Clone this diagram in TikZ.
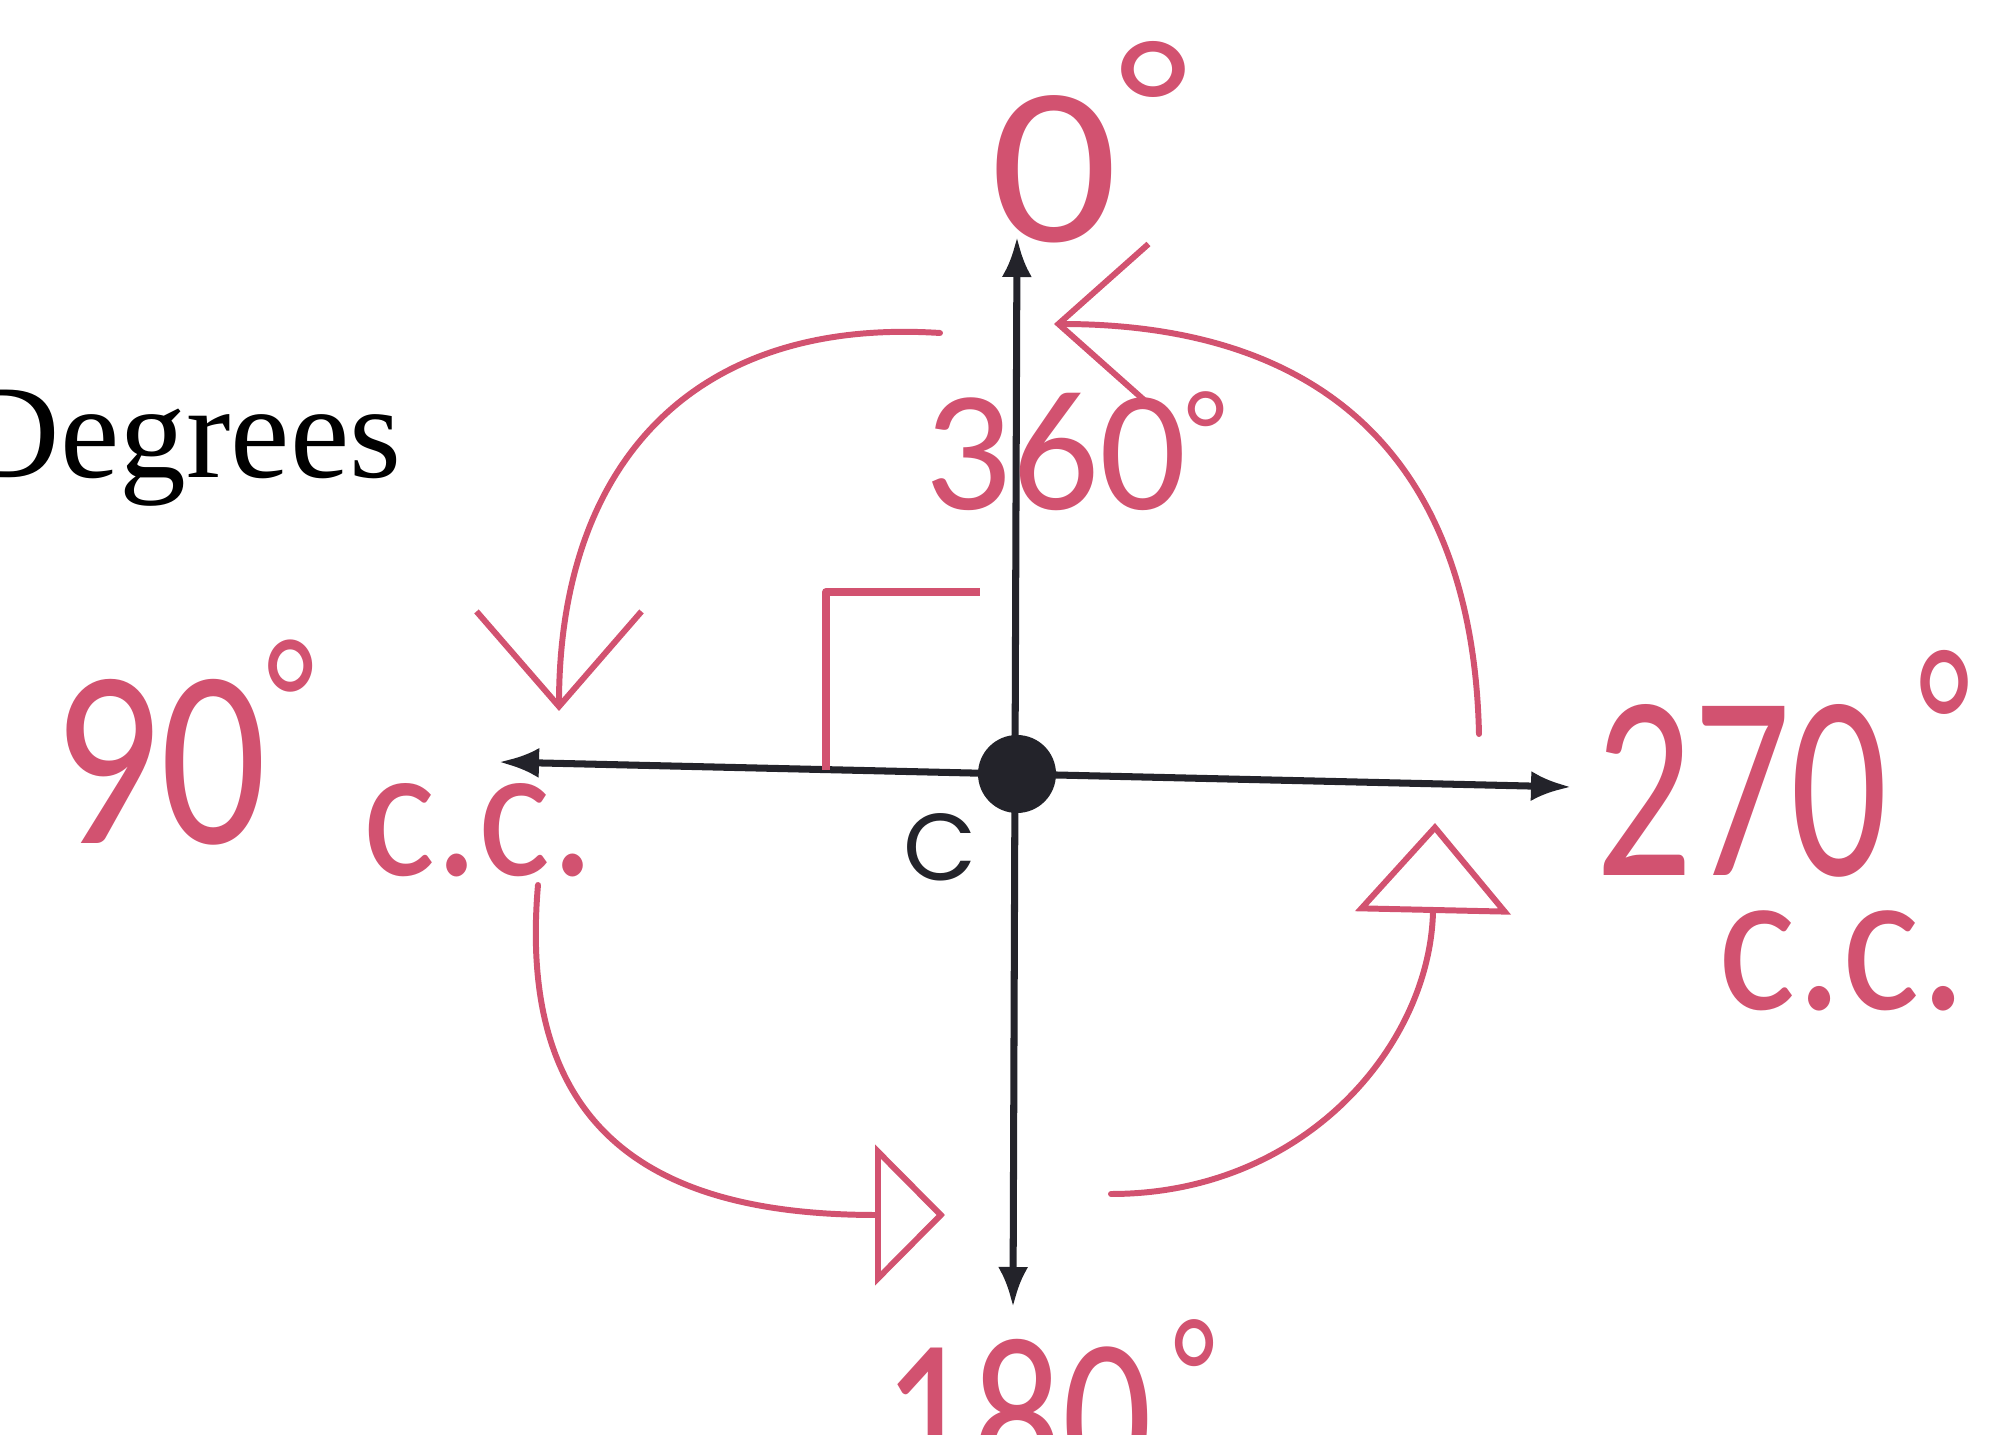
\documentclass[tikz,border=0pt]{standalone}
\usepackage{fontspec}
\setmainfont{Liberation Sans}
\newfontfamily\serifa{Liberation Serif}
\newfontfamily\tonda{Poppins}
\newfontfamily\penna{Carlito}
\usepackage{tikz}
\usetikzlibrary{arrows.meta}

\definecolor{rosa}{RGB}{210,82,112}
\definecolor{inchiostro}{RGB}{35,35,42}
% segno di grado: spostamento, sollevamento, scala
\newcommand{\gradi}[3]{\kern#1\raisebox{#2}{\scalebox{#3}{°}}}

\begin{document}
\begin{tikzpicture}[
		asse/.style={draw=inchiostro, line width=2pt, {Latex[length=4mm,width=3mm]}-{Latex[length=4mm,width=3mm]}},
		tratto/.style={draw=rosa, line width=1.7pt, line cap=round, line join=round},
		mano/.style={text=rosa, inner sep=0pt, anchor=base west}
	]
				\useasboundingbox (0, 0) rectangle (19.91, 14.34);
				\clip (0, 0) rectangle (19.91, 14.34);
				
				% Titolo
				\node[font=\serifa\fontsize{38}{38}\selectfont, anchor=base east, inner sep=0pt] (titolo) at (4.02, 9.56) {Degrees};
				
				% Assi
				\coordinate (sx) at (4.99, 6.72);
				\coordinate (dx) at (15.71, 6.47);
				\coordinate (su) at (10.17, 11.97);
				\coordinate (giu) at (10.13, 1.27);
				\draw[asse] (sx) -- (dx);
				\draw[asse] (giu) -- (su);
				\node[circle, fill=inchiostro, minimum size=0.78cm, inner sep=0pt] (O) at (10.17, 6.60) {};
				\node[font=\tonda\fontsize{27}{27}\selectfont, text=inchiostro] (lblC) at (9.40, 5.87) {C};
				
				% Angolo retto
				\draw[tratto, line width=2.2pt, line cap=butt] (8.26, 6.64) -- (8.26, 8.42) -- (9.80, 8.42);
				
				% Etichette in gradi
				\node[mano, font=\penna\fontsize{64}{64}\selectfont, xscale=1.12] (zero) at (9.90, 11.92) {0\gradi{0em}{.33em}{.82}};
				\node[mano, font=\penna\fontsize{49}{49}\selectfont] (tresessanta) at (9.24, 9.24) {360\gradi{0em}{.23em}{.67}};
				\node[mano, font=\penna\fontsize{72}{72}\selectfont, xscale=0.83] (novanta) at (0.53, 5.90) {90\gradi{0em}{.34em}{.68}};
				\node[mano, font=\penna\fontsize{54}{54}\selectfont, xscale=0.9] (ccsx) at (3.63, 5.58) {c.c.};
				\node[mano, font=\penna\fontsize{75}{75}\selectfont, xscale=0.73] (duesettanta) at (15.95, 5.58) {270\gradi{.16em}{.31em}{.8}};
				\node[mano, font=\penna\fontsize{58}{58}\selectfont, xscale=0.9] (ccdx) at (17.18, 4.24) {c.c.};
				\node[mano, font=\penna\fontsize{63}{63}\selectfont, xscale=0.8] (centottanta) at (8.82, -0.56) {180\gradi{.12em}{.29em}{.7}};
				
				% Frecce di rotazione
				\coordinate (a1) at (9.40, 11.01);
				\coordinate (b1) at (5.59, 7.23);
				\draw[tratto, -{Straight Barb[length=9.5mm,width=16.5mm]}] (a1) .. controls (6.92, 11.17) and (5.59, 9.69) .. (b1);
				
				\coordinate (a2) at (14.79, 7.00);
				\coordinate (b2) at (10.54, 11.10);
				\draw[tratto, -{Straight Barb[length=9mm,width=16mm]}] (a2) .. controls (14.73, 9.67) and (13.31, 11.10) .. (b2);
				
				\coordinate (a3) at (5.38, 5.49);
				\coordinate (b3) at (9.45, 2.19);
				\draw[tratto, -{Triangle[open,length=7mm,width=14mm]}] (a3) to[out=265, in=180, looseness=1.3] (b3);
				
				\coordinate (a4) at (11.11, 2.40);
				\coordinate (b4) at (14.35, 6.11);
				\draw[tratto, -{Triangle[open,length=9mm,width=15.5mm]}] (a4) .. controls (13.05, 2.40) and (14.30, 3.89) .. (b4);
\end{tikzpicture}
\end{document}
